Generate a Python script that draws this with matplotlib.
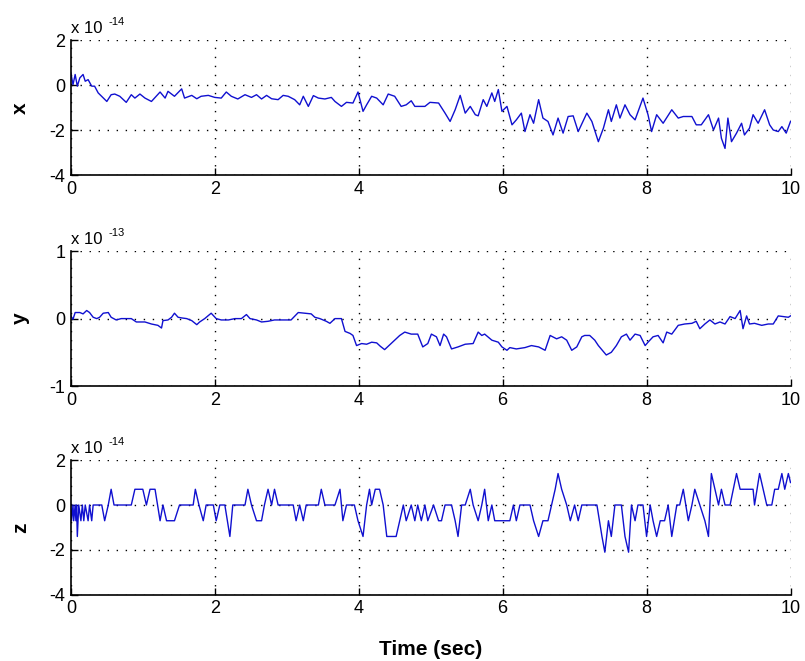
import numpy as np
import matplotlib.pyplot as plt

plt.rcParams['font.family'] = ['Liberation Sans', 'DejaVu Sans']
plt.rcParams['axes.unicode_minus'] = False
plt.rcParams['mathtext.fontset'] = 'custom'
plt.rcParams['mathtext.rm'] = 'Liberation Sans'

# x signal, units of 1e-14
t_x = [0.0, 0.03, 0.06, 0.09, 0.125, 0.17, 0.20, 0.24, 0.29, 0.33, 0.38, 0.50, 0.56, 0.61,
       0.68, 0.77, 0.84, 0.89, 0.96, 1.03, 1.12, 1.24, 1.31, 1.35, 1.44, 1.54, 1.58, 1.68,
       1.75, 1.81, 1.91, 2.00, 2.09, 2.16, 2.23, 2.32, 2.42, 2.51, 2.58, 2.65, 2.72, 2.79,
       2.88, 2.95, 3.02, 3.11, 3.18, 3.23, 3.30, 3.37, 3.44, 3.53, 3.62, 3.67, 3.76, 3.83,
       3.92, 3.99, 4.06, 4.11, 4.18, 4.25, 4.34, 4.41, 4.50, 4.59, 4.66, 4.73, 4.78, 4.92,
       4.99, 5.11, 5.20, 5.27, 5.34, 5.41, 5.48, 5.55, 5.62, 5.66, 5.73, 5.78, 5.85, 5.89,
       5.94, 5.99, 6.06, 6.13, 6.19, 6.26, 6.31, 6.38, 6.43, 6.50, 6.56, 6.63, 6.70, 6.77,
       6.84, 6.91, 6.98, 7.05, 7.17, 7.24, 7.33, 7.40, 7.47, 7.51, 7.58, 7.63, 7.70, 7.77,
       7.84, 7.95, 8.02, 8.07, 8.14, 8.23, 8.35, 8.44, 8.51, 8.63, 8.69, 8.76, 8.86, 8.93,
       9.00, 9.04, 9.09, 9.13, 9.18, 9.25, 9.32, 9.36, 9.43, 9.48, 9.55, 9.64, 9.71, 9.76,
       9.83, 9.88, 9.94, 10.0]
x_vals = [0.55, 0.03, 0.48, -0.04, 0.33, 0.48, 0.18, 0.25, -0.04, -0.04, -0.34, -0.72, -0.42, -0.39,
          -0.49, -0.76, -0.42, -0.57, -0.39, -0.57, -0.72, -0.30, -0.57, -0.27, -0.49, -0.16, -0.57, -0.45,
          -0.60, -0.49, -0.45, -0.54, -0.57, -0.30, -0.49, -0.61, -0.42, -0.54, -0.42, -0.61, -0.45, -0.60,
          -0.64, -0.45, -0.49, -0.64, -0.87, -0.49, -0.94, -0.46, -0.57, -0.61, -0.54, -0.72, -0.94, -0.76,
          -0.79, -0.30, -1.16, -0.87, -0.49, -0.57, -0.87, -0.39, -0.49, -0.94, -0.87, -0.69, -0.94, -0.94,
          -0.76, -0.79, -1.24, -1.61, -1.09, -0.45, -1.24, -0.94, -1.31, -1.36, -0.64, -0.94, -0.34, -0.72,
          -0.19, -1.16, -0.94, -1.76, -1.54, -1.24, -2.06, -1.31, -1.69, -0.64, -1.46, -1.61, -2.21, -1.46,
          -2.13, -1.39, -1.36, -2.06, -1.24, -1.61, -2.51, -1.91, -1.09, -1.61, -0.87, -1.46, -0.87, -1.31,
          -1.54, -0.57, -1.31, -2.06, -1.31, -1.69, -1.09, -1.46, -1.39, -1.39, -1.76, -1.76, -1.31, -1.99,
          -1.46, -2.36, -2.81, -1.46, -2.51, -2.13, -1.69, -2.21, -1.91, -1.31, -1.69, -1.09, -1.76, -1.99,
          -2.06, -1.84, -2.13, -1.61]

# y signal, units of 1e-13
t_y = [0.0, 0.03, 0.06, 0.125, 0.17, 0.22, 0.26, 0.31, 0.36, 0.40, 0.45, 0.52, 0.56, 0.63,
       0.70, 0.84, 0.91, 1.03, 1.12, 1.21, 1.26, 1.28, 1.35, 1.40, 1.44, 1.49, 1.54, 1.61,
       1.68, 1.75, 1.79, 1.86, 1.95, 2.02, 2.09, 2.19, 2.28, 2.37, 2.44, 2.49, 2.58, 2.65,
       2.74, 2.83, 3.06, 3.16, 3.25, 3.34, 3.39, 3.46, 3.55, 3.60, 3.67, 3.76, 3.81, 3.88,
       3.92, 3.97, 4.04, 4.11, 4.18, 4.25, 4.30, 4.36, 4.42, 4.50, 4.57, 4.64, 4.73, 4.82,
       4.89, 4.96, 5.01, 5.08, 5.13, 5.18, 5.22, 5.29, 5.38, 5.48, 5.59, 5.66, 5.71, 5.75,
       5.85, 5.94, 5.99, 6.06, 6.10, 6.19, 6.31, 6.40, 6.50, 6.59, 6.66, 6.75, 6.82, 6.89,
       6.96, 7.03, 7.10, 7.14, 7.21, 7.28, 7.33, 7.44, 7.51, 7.58, 7.65, 7.72, 7.77, 7.84,
       7.91, 7.98, 8.02, 8.09, 8.16, 8.23, 8.28, 8.35, 8.44, 8.53, 8.63, 8.69, 8.74, 8.81,
       8.88, 8.95, 9.02, 9.09, 9.16, 9.23, 9.30, 9.34, 9.39, 9.43, 9.50, 9.60, 9.69, 9.76,
       9.83, 9.90, 9.97, 10.0]
y_vals = [0.04, -0.01, 0.09, 0.09, 0.07, 0.12, 0.09, 0.02, 0.0, 0.02, 0.08, 0.09, 0.02, -0.02,
          0.0, 0.0, -0.05, -0.05, -0.08, -0.10, -0.14, -0.03, -0.02, 0.02, 0.08, 0.02, 0.01, 0.0,
          -0.03, -0.09, -0.05, 0.0, 0.08, 0.0, -0.02, -0.02, 0.0, 0.0, 0.06, 0.0, -0.02, -0.05,
          -0.04, -0.02, -0.02, 0.09, 0.08, 0.07, 0.02, 0.0, -0.04, -0.07, 0.0, 0.0, -0.19, -0.22,
          -0.25, -0.40, -0.37, -0.38, -0.35, -0.36, -0.41, -0.46, -0.40, -0.32, -0.25, -0.20, -0.23, -0.23,
          -0.42, -0.37, -0.23, -0.27, -0.40, -0.23, -0.27, -0.45, -0.42, -0.38, -0.37, -0.20, -0.25, -0.23,
          -0.32, -0.35, -0.42, -0.47, -0.43, -0.45, -0.43, -0.40, -0.42, -0.47, -0.25, -0.30, -0.27, -0.32,
          -0.47, -0.42, -0.27, -0.25, -0.25, -0.32, -0.40, -0.54, -0.50, -0.40, -0.27, -0.23, -0.32, -0.23,
          -0.25, -0.40, -0.35, -0.27, -0.25, -0.36, -0.20, -0.23, -0.10, -0.08, -0.07, -0.04, -0.15, -0.08,
          -0.02, -0.08, -0.05, -0.08, 0.03, 0.0, 0.12, -0.15, 0.04, -0.08, -0.07, -0.10, -0.08, -0.08,
          0.04, 0.03, 0.02, 0.04]

# z signal, units of 1e-14
t_z = [0.0, 0.01, 0.03, 0.04, 0.06, 0.07, 0.08, 0.09, 0.11, 0.14, 0.16, 0.18, 0.20, 0.24,
       0.26, 0.29, 0.31, 0.43, 0.47, 0.52, 0.56, 0.60, 0.84, 0.89, 1.00, 1.05, 1.10, 1.17,
       1.24, 1.28, 1.33, 1.44, 1.51, 1.70, 1.73, 1.78, 1.84, 1.88, 1.98, 2.02, 2.07, 2.14,
       2.21, 2.25, 2.42, 2.46, 2.51, 2.58, 2.65, 2.69, 2.74, 2.79, 2.83, 2.88, 3.09, 3.13,
       3.18, 3.23, 3.27, 3.44, 3.48, 3.53, 3.67, 3.74, 3.78, 3.83, 3.94, 3.99, 4.06, 4.11,
       4.15, 4.18, 4.23, 4.29, 4.34, 4.39, 4.52, 4.57, 4.62, 4.66, 4.73, 4.78, 4.82, 4.87,
       4.92, 4.96, 5.04, 5.11, 5.15, 5.20, 5.29, 5.34, 5.38, 5.43, 5.48, 5.55, 5.59, 5.66,
       5.71, 5.75, 5.80, 5.85, 5.89, 6.10, 6.15, 6.19, 6.24, 6.38, 6.43, 6.50, 6.56, 6.63,
       6.68, 6.73, 6.77, 6.82, 6.89, 6.94, 7.00, 7.05, 7.10, 7.31, 7.38, 7.42, 7.47, 7.51,
       7.56, 7.65, 7.70, 7.75, 7.79, 7.84, 7.88, 7.95, 8.00, 8.05, 8.09, 8.14, 8.19, 8.25,
       8.30, 8.35, 8.42, 8.46, 8.51, 8.58, 8.63, 8.67, 8.74, 8.81, 8.86, 8.90, 8.95, 9.00,
       9.04, 9.09, 9.16, 9.25, 9.30, 9.48, 9.50, 9.57, 9.62, 9.67, 9.74, 9.78, 9.83, 9.88,
       9.92, 9.97, 10.0]
z_vals = [0, -0.7, 0, -0.7, 0, -0.7, 0, -1.4, 0, -0.7, 0, -0.7, 0, -0.7,
          0, -0.7, 0, 0, -0.7, 0, 0.7, 0, 0, 0.7, 0.7, 0, 0.7, 0.7,
          -0.7, 0, -0.7, -0.7, 0, 0, 0.7, 0, -0.7, 0, 0, -0.7, 0, 0,
          -1.4, 0, 0, 0.7, 0, -0.7, -0.7, 0, 0.7, 0, 0.7, 0, 0, -0.7,
          0, -0.7, 0, 0, 0.7, 0, 0, 0.7, -0.7, 0, 0, -0.7, -1.4, 0,
          0.7, 0, 0.7, 0.7, 0, -1.4, -1.4, -0.7, 0, -0.7, 0, -0.7, 0, -0.7,
          0, -0.7, 0, -0.7, -0.7, 0, 0, -0.7, -1.4, 0, 0, 0.7, 0, -0.7,
          0, 0.7, -0.7, 0, -0.7, -0.7, 0, -0.7, 0, 0, -0.7, -1.4, -0.7, -0.7,
          0, 0.7, 1.4, 0.7, 0, -0.7, 0, -0.7, 0, 0, -1.4, -2.1, -0.7, -1.4,
          0, 0, -1.4, -2.1, 0, -0.7, 0, 0, -1.4, 0, -0.7, -1.4, -0.7, -0.7,
          0, -1.4, 0, 0, 0.7, -0.7, 0, 0.7, 0, -0.7, -1.4, 1.4, 0.7, 0,
          0.7, 0, 0, 1.4, 0.7, 0.7, 0, 1.4, 0.7, 0, 0, 0.7, 0.7, 1.4,
          0.7, 1.4, 1.0]

panels = [
    ("x", t_x, x_vals, [-4, -2, 0, 2], "-14"),
    ("y", t_y, y_vals, [-1, 0, 1], "-13"),
    ("z", t_z, z_vals, [-4, -2, 0, 2], "-14"),
]
x_ticks = [0, 2, 4, 6, 8, 10]

fig = plt.figure(figsize=(8.05, 6.61), dpi=100)
bottoms = [0.735, 0.416, 0.100]

for (name, t, v, yt, expo), b in zip(panels, bottoms):
    ax = fig.add_axes([0.088, b, 0.894, 0.204])
    ax.plot(t, v, color="#1010d0", lw=1.0)
    ax.set_xlim(0, 10)
    ax.set_ylim(yt[0], yt[-1])
    ax.set_xticks(x_ticks)
    ax.set_yticks(yt)
    ax.grid(True, color="black", linestyle=(0, (1, 5.5)), lw=1.0)
    ax.spines["top"].set_visible(False)
    ax.spines["right"].set_visible(False)
    for s in ["left", "bottom"]:
        ax.spines[s].set_linewidth(1.2)
    ax.tick_params(direction="in", length=5, width=1.0, labelsize=13, pad=4)
    ax.set_ylabel(name, fontsize=15, fontweight="bold", rotation=90)
    ax.yaxis.set_label_coords(-0.057, 0.5)
    ax.text(0.0, 1.03, "x 10", transform=ax.transAxes,
            fontsize=12, ha="left", va="bottom")
    ax.text(0.053, 1.10, expo, transform=ax.transAxes,
            fontsize=8, ha="left", va="bottom")
    if name == "z":
        ax.set_xlabel("Time (sec)", fontsize=15, fontweight="bold", labelpad=16)

fig.savefig("out.png", dpi=100)
